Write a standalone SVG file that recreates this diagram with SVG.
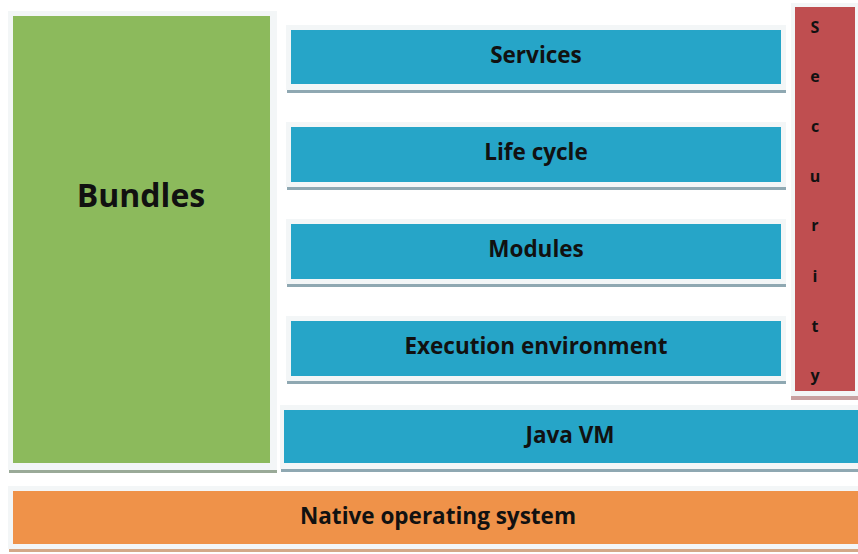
<svg xmlns="http://www.w3.org/2000/svg" width="858" height="554" viewBox="0 0 858 554">
<style>
.frame{fill:#f3f6f7;}
.blue{fill:#26a5c8;}
.t{font-family:"Open Sans","Liberation Sans",Arial,sans-serif;font-weight:bold;fill:#111;text-anchor:middle;}
.m{font-size:22.5px;}
.s{font-size:16px;font-family:"Open Sans","Liberation Sans",Arial,sans-serif;font-weight:bold;fill:#111;text-anchor:middle;}
</style>
<rect width="858" height="554" fill="#ffffff"/>
<g id="bundles">
<rect class="frame" x="8" y="11" width="269" height="459"/>
<rect x="9" y="470" width="268" height="3" fill="#9aaa98"/>
<rect x="13" y="16" width="257" height="447" fill="#8cba5c"/>
<text class="t" x="141" y="207" font-size="32">Bundles</text>
</g>
<g id="services">
<rect class="frame" x="286" y="25" width="500" height="65"/>
<rect x="287" y="90" width="499" height="3" fill="#8fa8b2"/>
<rect class="blue" x="291" y="30" width="490" height="54"/>
<text class="t m" x="536" y="63">Services</text>
</g>
<g id="lifecycle">
<rect class="frame" x="286" y="122" width="500" height="65"/>
<rect x="287" y="187" width="499" height="3" fill="#8fa8b2"/>
<rect class="blue" x="291" y="127" width="490" height="55"/>
<text class="t m" x="536" y="160">Life cycle</text>
</g>
<g id="modules">
<rect class="frame" x="286" y="219" width="500" height="65"/>
<rect x="287" y="284" width="499" height="3" fill="#8fa8b2"/>
<rect class="blue" x="291" y="224" width="490" height="55"/>
<text class="t m" x="536" y="257">Modules</text>
</g>
<g id="execution">
<rect class="frame" x="286" y="316" width="500" height="65"/>
<rect x="287" y="381" width="499" height="3" fill="#8fa8b2"/>
<rect class="blue" x="291" y="321" width="490" height="55"/>
<text class="t m" x="536" y="354">Execution environment</text>
</g>
<g id="security">
<rect class="frame" x="791" y="3" width="67" height="393"/>
<rect x="791" y="396" width="67" height="4" fill="#c8a0a0"/>
<rect x="795" y="7" width="60" height="384" fill="#bf4e50"/>
<text class="s" x="815" y="33">S</text>
<text class="s" x="815" y="82">e</text>
<text class="s" x="815" y="132">c</text>
<text class="s" x="815" y="182">u</text>
<text class="s" x="815" y="231">r</text>
<text class="s" x="815" y="282">i</text>
<text class="s" x="815" y="332">t</text>
<text class="s" x="815" y="381">y</text>
</g>
<g id="javavm">
<rect class="frame" x="280" y="405" width="578" height="64"/>
<rect x="281" y="469" width="577" height="3" fill="#8fa8b2"/>
<rect class="blue" x="284" y="410" width="574" height="53"/>
<text class="t m" x="570" y="443">Java VM</text>
</g>
<g id="native">
<rect class="frame" x="8" y="486" width="850" height="63"/>
<rect x="9" y="549" width="849" height="3" fill="#d4a888"/>
<rect x="13" y="491" width="845" height="53" fill="#ef9249"/>
<text class="t m" x="438" y="524">Native operating system</text>
</g>
<g id="connectors"></g>
</svg>
